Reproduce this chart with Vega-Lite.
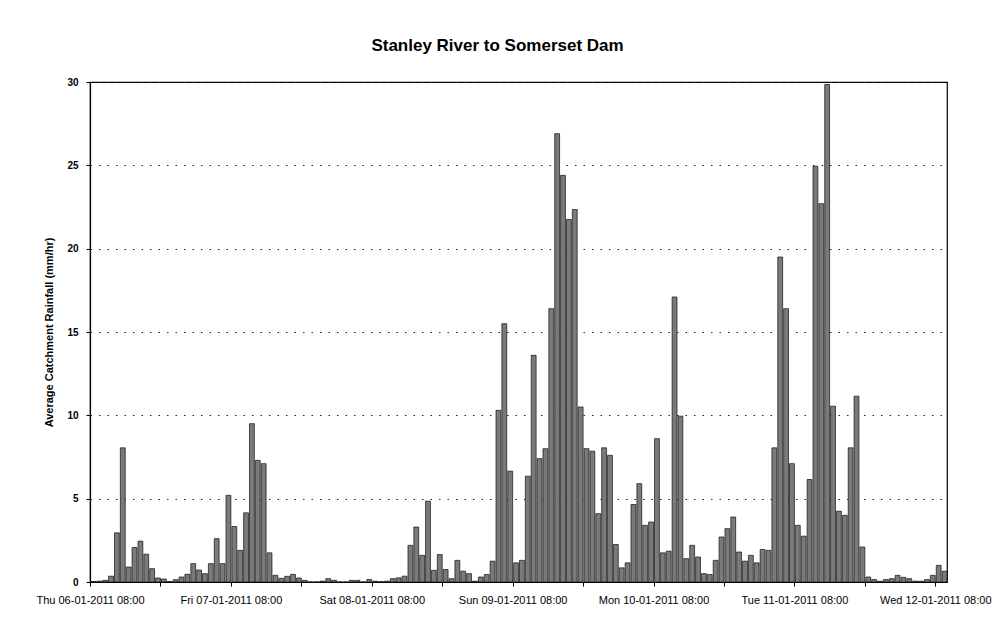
{
"$schema":"https://vega.github.io/schema/vega-lite/v6.json",
"width":857,"height":500,
"autosize":{"type":"none"},
"padding":{"left":90,"top":82,"right":46,"bottom":39},
"background":"white",
"title":{"text":"Stanley River to Somerset Dam","font":"Liberation Sans","fontSize":17,"fontWeight":"bold","anchor":"middle","dx":-21,"offset":22,"color":"#000"},
"data":{"values":[
{"t":"2011-01-06T08:00","v":0.03},{"t":"2011-01-06T09:00","v":0.05},{"t":"2011-01-06T10:00","v":0.1},{"t":"2011-01-06T11:00","v":0.35},
{"t":"2011-01-06T12:00","v":2.95},{"t":"2011-01-06T13:00","v":8.05},{"t":"2011-01-06T14:00","v":0.9},{"t":"2011-01-06T15:00","v":2.07},
{"t":"2011-01-06T16:00","v":2.45},{"t":"2011-01-06T17:00","v":1.67},{"t":"2011-01-06T18:00","v":0.8},{"t":"2011-01-06T19:00","v":0.24},
{"t":"2011-01-06T20:00","v":0.18},{"t":"2011-01-06T21:00","v":0.03},{"t":"2011-01-06T22:00","v":0.14},{"t":"2011-01-06T23:00","v":0.3},
{"t":"2011-01-07T00:00","v":0.46},{"t":"2011-01-07T01:00","v":1.1},{"t":"2011-01-07T02:00","v":0.72},{"t":"2011-01-07T03:00","v":0.5},
{"t":"2011-01-07T04:00","v":1.1},{"t":"2011-01-07T05:00","v":2.6},{"t":"2011-01-07T06:00","v":1.1},{"t":"2011-01-07T07:00","v":5.2},
{"t":"2011-01-07T08:00","v":3.33},{"t":"2011-01-07T09:00","v":1.9},{"t":"2011-01-07T10:00","v":4.15},{"t":"2011-01-07T11:00","v":9.5},
{"t":"2011-01-07T12:00","v":7.3},{"t":"2011-01-07T13:00","v":7.1},{"t":"2011-01-07T14:00","v":1.75},{"t":"2011-01-07T15:00","v":0.4},
{"t":"2011-01-07T16:00","v":0.22},{"t":"2011-01-07T17:00","v":0.34},{"t":"2011-01-07T18:00","v":0.46},{"t":"2011-01-07T19:00","v":0.24},
{"t":"2011-01-07T20:00","v":0.1},{"t":"2011-01-07T21:00","v":0},{"t":"2011-01-07T22:00","v":0},{"t":"2011-01-07T23:00","v":0.05},
{"t":"2011-01-08T00:00","v":0.2},{"t":"2011-01-08T01:00","v":0.1},{"t":"2011-01-08T02:00","v":0},{"t":"2011-01-08T03:00","v":0},
{"t":"2011-01-08T04:00","v":0.1},{"t":"2011-01-08T05:00","v":0.1},{"t":"2011-01-08T06:00","v":0},{"t":"2011-01-08T07:00","v":0.15},
{"t":"2011-01-08T08:00","v":0.05},{"t":"2011-01-08T09:00","v":0.02},{"t":"2011-01-08T10:00","v":0.05},{"t":"2011-01-08T11:00","v":0.2},
{"t":"2011-01-08T12:00","v":0.25},{"t":"2011-01-08T13:00","v":0.35},{"t":"2011-01-08T14:00","v":2.2},{"t":"2011-01-08T15:00","v":3.3},
{"t":"2011-01-08T16:00","v":1.6},{"t":"2011-01-08T17:00","v":4.85},{"t":"2011-01-08T18:00","v":0.7},{"t":"2011-01-08T19:00","v":1.65},
{"t":"2011-01-08T20:00","v":0.75},{"t":"2011-01-08T21:00","v":0.2},{"t":"2011-01-08T22:00","v":1.3},{"t":"2011-01-08T23:00","v":0.65},
{"t":"2011-01-09T00:00","v":0.5},{"t":"2011-01-09T01:00","v":0.05},{"t":"2011-01-09T02:00","v":0.3},{"t":"2011-01-09T03:00","v":0.45},
{"t":"2011-01-09T04:00","v":1.25},{"t":"2011-01-09T05:00","v":10.3},{"t":"2011-01-09T06:00","v":15.5},{"t":"2011-01-09T07:00","v":6.65},
{"t":"2011-01-09T08:00","v":1.15},{"t":"2011-01-09T09:00","v":1.3},{"t":"2011-01-09T10:00","v":6.35},{"t":"2011-01-09T11:00","v":13.6},
{"t":"2011-01-09T12:00","v":7.4},{"t":"2011-01-09T13:00","v":8.0},{"t":"2011-01-09T14:00","v":16.4},{"t":"2011-01-09T15:00","v":26.9},
{"t":"2011-01-09T16:00","v":24.4},{"t":"2011-01-09T17:00","v":21.75},{"t":"2011-01-09T18:00","v":22.35},{"t":"2011-01-09T19:00","v":10.5},
{"t":"2011-01-09T20:00","v":8.0},{"t":"2011-01-09T21:00","v":7.85},{"t":"2011-01-09T22:00","v":4.1},{"t":"2011-01-09T23:00","v":8.05},
{"t":"2011-01-10T00:00","v":7.6},{"t":"2011-01-10T01:00","v":2.25},{"t":"2011-01-10T02:00","v":0.85},{"t":"2011-01-10T03:00","v":1.15},
{"t":"2011-01-10T04:00","v":4.65},{"t":"2011-01-10T05:00","v":5.9},{"t":"2011-01-10T06:00","v":3.4},{"t":"2011-01-10T07:00","v":3.6},
{"t":"2011-01-10T08:00","v":8.6},{"t":"2011-01-10T09:00","v":1.75},{"t":"2011-01-10T10:00","v":1.85},{"t":"2011-01-10T11:00","v":17.1},
{"t":"2011-01-10T12:00","v":9.95},{"t":"2011-01-10T13:00","v":1.4},{"t":"2011-01-10T14:00","v":2.2},{"t":"2011-01-10T15:00","v":1.5},
{"t":"2011-01-10T16:00","v":0.5},{"t":"2011-01-10T17:00","v":0.45},{"t":"2011-01-10T18:00","v":1.3},{"t":"2011-01-10T19:00","v":2.7},
{"t":"2011-01-10T20:00","v":3.2},{"t":"2011-01-10T21:00","v":3.9},{"t":"2011-01-10T22:00","v":1.8},{"t":"2011-01-10T23:00","v":1.25},
{"t":"2011-01-11T00:00","v":1.6},{"t":"2011-01-11T01:00","v":1.15},{"t":"2011-01-11T02:00","v":1.95},{"t":"2011-01-11T03:00","v":1.9},
{"t":"2011-01-11T04:00","v":8.05},{"t":"2011-01-11T05:00","v":19.5},{"t":"2011-01-11T06:00","v":16.4},{"t":"2011-01-11T07:00","v":7.1},
{"t":"2011-01-11T08:00","v":3.4},{"t":"2011-01-11T09:00","v":2.75},{"t":"2011-01-11T10:00","v":6.15},{"t":"2011-01-11T11:00","v":24.95},
{"t":"2011-01-11T12:00","v":22.7},{"t":"2011-01-11T13:00","v":29.85},{"t":"2011-01-11T14:00","v":10.55},{"t":"2011-01-11T15:00","v":4.25},
{"t":"2011-01-11T16:00","v":4.0},{"t":"2011-01-11T17:00","v":8.05},{"t":"2011-01-11T18:00","v":11.15},{"t":"2011-01-11T19:00","v":2.1},
{"t":"2011-01-11T20:00","v":0.3},{"t":"2011-01-11T21:00","v":0.15},{"t":"2011-01-11T22:00","v":0.05},{"t":"2011-01-11T23:00","v":0.15},
{"t":"2011-01-12T00:00","v":0.2},{"t":"2011-01-12T01:00","v":0.4},{"t":"2011-01-12T02:00","v":0.28},{"t":"2011-01-12T03:00","v":0.2},
{"t":"2011-01-12T04:00","v":0.05},{"t":"2011-01-12T05:00","v":0.05},{"t":"2011-01-12T06:00","v":0.15},{"t":"2011-01-12T07:00","v":0.4},
{"t":"2011-01-12T08:00","v":1.0},{"t":"2011-01-12T09:00","v":0.65}
]},
"mark":{"type":"bar","fill":"#7a7a7a","stroke":"#111","strokeWidth":0.7},
"encoding":{
"x":{"field":"t","type":"temporal","timeUnit":"yearmonthdatehours",
"scale":{"domain":[{"year":2011,"month":1,"date":6,"hours":8},{"year":2011,"month":1,"date":12,"hours":10}],"nice":false},
"axis":{"title":null,"grid":false,
"values":[{"year":2011,"month":1,"date":6,"hours":8},{"year":2011,"month":1,"date":6,"hours":20},{"year":2011,"month":1,"date":7,"hours":8},{"year":2011,"month":1,"date":7,"hours":20},{"year":2011,"month":1,"date":8,"hours":8},{"year":2011,"month":1,"date":8,"hours":20},{"year":2011,"month":1,"date":9,"hours":8},{"year":2011,"month":1,"date":9,"hours":20},{"year":2011,"month":1,"date":10,"hours":8},{"year":2011,"month":1,"date":10,"hours":20},{"year":2011,"month":1,"date":11,"hours":8},{"year":2011,"month":1,"date":11,"hours":20},{"year":2011,"month":1,"date":12,"hours":8}],
"labelExpr":"hours(datum.value)==8 ? timeFormat(datum.value,'%a %d-%m-%Y %H:%M') : ''",
"labelFont":"Liberation Sans","labelFontSize":11,"labelColor":"#000","labelOverlap":false,"labelFlush":false,"labelPadding":8,
"tickSize":4,"tickColor":"#000","domainColor":"#000","domainWidth":1.2}},
"y":{"field":"v","type":"quantitative","scale":{"domain":[0,30],"nice":false},
"axis":{"values":[0,5,10,15,20,25,30],"title":"Average Catchment Rainfall (mm/hr)",
"titleFont":"Liberation Sans","titleFontSize":11,"titleFontWeight":"bold","titleColor":"#000","titlePadding":12,
"labelFont":"Liberation Sans","labelFontSize":10,"labelFontWeight":"bold","labelColor":"#000","labelPadding":8,
"tickSize":4,"tickColor":"#000","domainColor":"#000","domainWidth":1.2,
"grid":true,"gridDash":[1.5,7],"gridColor":"#222","gridWidth":1}}
},
"config":{"view":{"stroke":"#000","strokeWidth":1.2}}
}
